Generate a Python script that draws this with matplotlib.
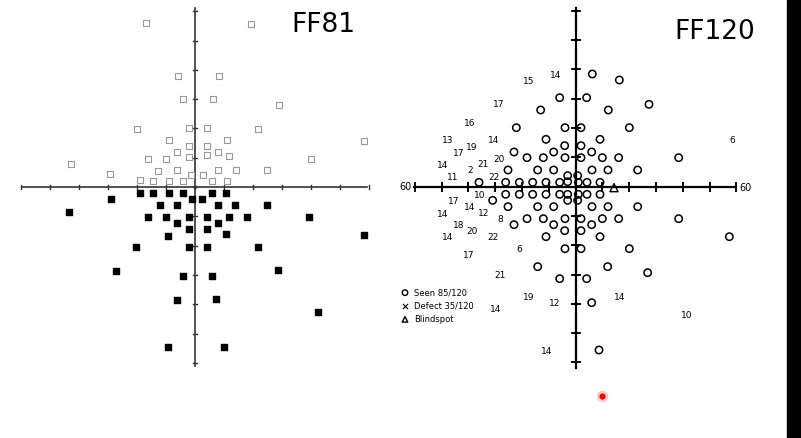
import matplotlib.pyplot as plt

# -----------------------------
# FF81 field (pixel positions)
# -----------------------------
ff81_seen_x = [146, 251, 178, 219, 183, 213, 279, 137, 189, 207, 258, 364, 169, 189, 207, 227,
               71, 148, 166, 177, 189, 207, 218, 229, 311, 158, 177, 191, 203, 218, 236, 267,
               110, 140, 153, 169, 183, 212, 227]
ff81_seen_y = [23, 24, 76, 76, 99, 99, 105, 129, 128, 128, 129, 141, 140, 146, 146, 140,
               164, 159, 159, 152, 157, 155, 152, 156, 159, 171, 170, 175, 175, 170, 170, 170,
               174, 180, 181, 181, 181, 181, 181]
ff81_defect_x = [140, 153, 169, 183, 212, 226, 111, 192, 202, 69, 160, 177, 218, 235, 267,
                 148, 166, 189, 207, 229, 247, 309, 177, 218, 189, 207, 168, 226, 364,
                 136, 189, 207, 258, 116, 183, 212, 278, 177, 216, 318, 168, 224]
ff81_defect_y = [193, 193, 193, 193, 193, 193, 199, 199, 199, 212, 205, 205, 205, 205, 205,
                 217, 217, 217, 217, 217, 217, 217, 223, 223, 229, 229, 236, 234, 235,
                 247, 247, 247, 247, 271, 276, 276, 270, 300, 299, 312, 347, 347]

# -----------------------------
# FF120 field (positions in 3x zoom coordinates of the right panel)
# -----------------------------
ff120_seen = [(607, 222), (688, 240), (509, 293), (590, 293), (777, 313), (452, 330), (655, 330),
              (379, 383), (525, 383), (573, 383), (718, 383), (468, 418), (630, 418), (524, 437),
              (573, 437), (372, 456), (491, 456), (605, 456), (411, 473), (460, 473), (525, 473),
              (573, 473), (637, 473), (686, 473), (866, 473), (354, 510), (443, 510), (491, 510),
              (606, 510), (654, 510), (743, 510), (533, 527), (563, 527), (267, 547), (347, 547),
              (388, 547), (428, 547), (468, 547), (509, 547), (533, 545), (565, 547), (591, 547),
              (630, 547), (347, 583), (388, 583), (428, 583), (468, 583), (509, 583), (533, 583),
              (565, 583), (591, 583), (630, 583), (308, 601), (533, 601), (563, 601), (354, 620),
              (443, 620), (491, 620), (606, 620), (654, 620), (743, 620), (411, 656), (460, 656),
              (525, 656), (573, 656), (637, 656), (686, 656), (866, 656), (372, 674), (491, 674),
              (605, 674), (524, 692), (573, 692), (468, 710), (630, 710), (1018, 710), (525, 746),
              (573, 746), (718, 746), (443, 800), (653, 800), (773, 818), (509, 836), (590, 836),
              (605, 908), (627, 1050)]
ff120_blind = (672, 563)
ff120_labels = [(496, 226, "14"), (417, 244, "15"), (327, 314, "17"), (238, 369, "16"),
                (174, 422, "13"), (246, 441, "19"), (312, 422, "14"), (207, 461, "17"),
                (326, 477, "20"), (157, 496, "14"), (278, 494, "21"), (242, 512, "2"),
                (188, 532, "11"), (312, 532, "22"), (270, 586, "10"), (190, 605, "17"),
                (238, 623, "14"), (157, 643, "14"), (280, 641, "12"), (330, 659, "8"),
                (205, 677, "18"), (245, 695, "20"), (173, 713, "14"), (310, 713, "22"),
                (388, 748, "6"), (237, 767, "17"), (331, 825, "21"), (416, 894, "19"),
                (493, 912, "12"), (318, 930, "14"), (688, 893, "14"), (890, 945, "10"),
                (470, 1054, "14"), (1028, 422, "6")]
legend_labels = ["Seen 85/120", "Defect 35/120", "Blindspot"]


def zx(x):
    return 390 + x / 3


def zy(y):
    return y / 3


fig = plt.figure(figsize=(8.01, 4.38), dpi=100)
ax = fig.add_axes([0, 0, 1, 1])
ax.set_xlim(0, 801)
ax.set_ylim(438, 0)
ax.axis("off")

# -----------------------------
# Left panel: FF81
# -----------------------------
ax.plot([22, 367], [187, 187], color="#333333", lw=1.2)
ax.plot([195, 195], [8, 366], color="#333333", lw=1.2)
for i in range(-6, 7):
    ax.plot([195 + i * 29, 195 + i * 29], [185, 189], color="#333333", lw=1)
    ax.plot([193, 197], [187 + i * 29.3, 187 + i * 29.3], color="#333333", lw=1)
ax.scatter(ff81_seen_x, ff81_seen_y, marker="s", s=20, facecolors="white",
           edgecolors="#999999", linewidths=0.8, zorder=3)
ax.scatter(ff81_defect_x, ff81_defect_y, marker="s", s=24, color="black", zorder=3)
ax.text(323, 25, "FF81", fontsize=19, ha="center", va="center")

# -----------------------------
# Right panel: FF120
# -----------------------------
cx, cy = zx(557), zy(560)
ax.plot([zx(73), zx(1037)], [cy, cy], color="black", lw=1.6)
ax.plot([cx, cx], [zy(25), zy(1105)], color="black", lw=1.6)
for i in range(-6, 7):
    tx = cx + i * 26.8
    ax.plot([tx, tx], [cy - 4, cy + 4], color="black", lw=1.4)
    ty = cy + i * 29.3
    ax.plot([cx - 4, cx + 4], [ty, ty], color="black", lw=1.4)
ax.text(zx(45), cy, "60", fontsize=7, ha="center", va="center")
ax.text(zx(1065), cy + 1, "60", fontsize=7, ha="center", va="center")

ax.scatter([zx(p[0]) for p in ff120_seen], [zy(p[1]) for p in ff120_seen], marker="o",
           s=28, facecolors="none", edgecolors="black", linewidths=1.1, zorder=3)
ax.scatter([zx(ff120_blind[0])], [zy(ff120_blind[1])], marker="^", s=34,
           facecolors="none", edgecolors="black", linewidths=1, zorder=3)
for x, y, t in ff120_labels:
    ax.text(zx(x), zy(y), t, fontsize=6.5, ha="center", va="center")

# legend
markers = ["o", "x", "^"]
for k, (m, lab) in enumerate(zip(markers, legend_labels)):
    ly = zy(878 + k * 40)
    if m == "x":
        ax.scatter([zx(45)], [ly], marker=m, s=14, color="black", linewidths=0.8)
    else:
        ax.scatter([zx(45)], [ly], marker=m, s=16, facecolors="none",
                   edgecolors="black", linewidths=1)
    ax.text(zx(73), ly, lab, fontsize=6, ha="left", va="center")

ax.text(zx(975), zy(95), "FF120", fontsize=19, ha="center", va="center")

# black strip at right edge
ax.fill_between([787, 801], 0, 438, color="black", zorder=5)

# red pointer dot
ax.scatter([602], [396], s=70, color="#ff9090", alpha=0.5, linewidths=0, zorder=6)
ax.scatter([602], [396], s=20, color="#e01010", linewidths=0, zorder=7)

fig.savefig("out.png", dpi=100)
